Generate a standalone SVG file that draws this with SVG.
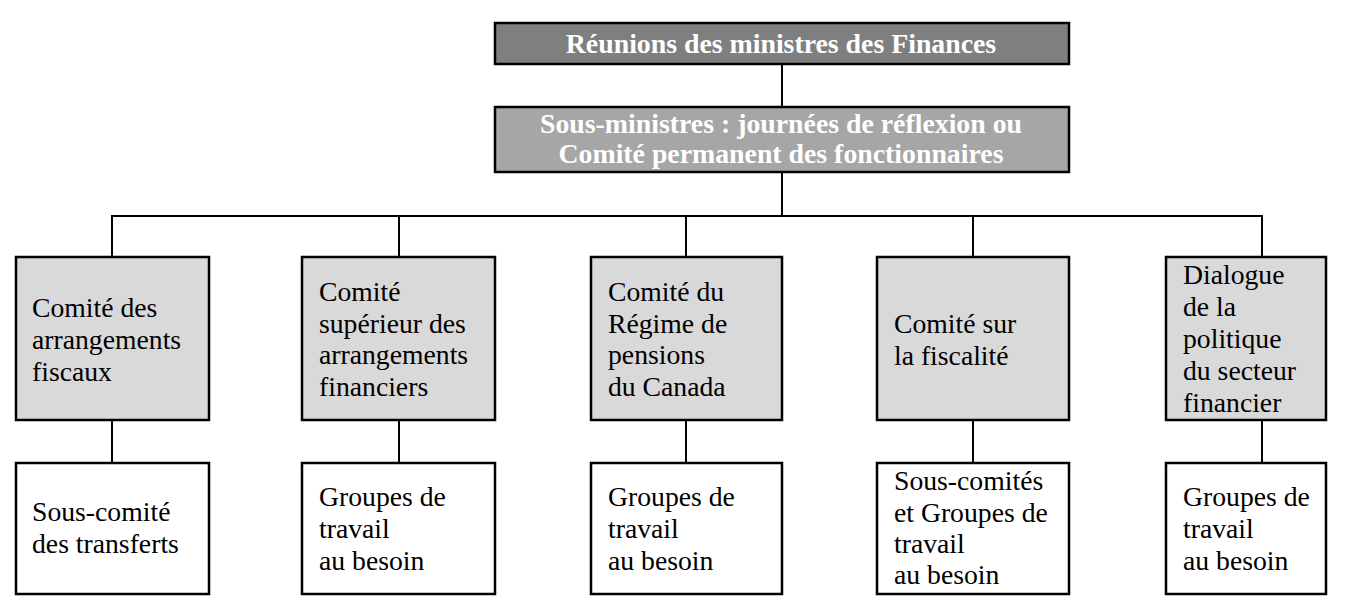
<svg xmlns="http://www.w3.org/2000/svg" width="1346" height="610" viewBox="0 0 1346 610">
<style>
.box{stroke:#000;stroke-width:2.5}
.b1{fill:#7f7f7f}
.b2{fill:#a6a6a6}
.b3{fill:#d9d9d9}
.b4{fill:#fff}
.hd{font-family:"Liberation Serif","Times New Roman",serif;font-weight:bold;font-size:27.8px;fill:#fff;text-anchor:middle}
.tx{font-family:"Liberation Serif","Times New Roman",serif;font-size:27.7px;fill:#000}
.ln{stroke:#000;stroke-width:2;fill:none}
</style>
<rect width="1346" height="610" fill="#fff"/>
<g id="connectors">
<path class="ln" d="M782 64V107M782 172V216M111 216H1263M112 216V257M399 216V257M686 216V257M973 216V257M1262 216V257M112 420V463M399 420V463M686 420V463M973 420V463M1262 420V463"/>
</g>
<g id="n-ministres">
<rect class="box b1" x="495" y="23" width="574" height="41"/>
<text class="hd" x="781" y="53">Réunions des ministres des Finances</text>
</g>
<g id="n-sousministres">
<rect class="box b2" x="495" y="107" width="574" height="65"/>
<text class="hd" x="781" y="133">Sous-ministres : journées de réflexion ou</text>
<text class="hd" x="781" y="162.5">Comité permanent des fonctionnaires</text>
</g>
<g id="n-fiscaux">
<rect class="box b3" x="16" y="257" width="193" height="163"/>
<text class="tx"><tspan x="32" y="317">Comité des</tspan><tspan x="32" y="349">arrangements</tspan><tspan x="32" y="381">fiscaux</tspan></text>
</g>
<g id="n-superieur">
<rect class="box b3" x="302" y="257" width="193" height="163"/>
<text class="tx"><tspan x="319" y="301">Comité</tspan><tspan x="319" y="333">supérieur des</tspan><tspan x="319" y="364">arrangements</tspan><tspan x="319" y="396">financiers</tspan></text>
</g>
<g id="n-rpc">
<rect class="box b3" x="591" y="257" width="191" height="163"/>
<text class="tx"><tspan x="608" y="301">Comité du</tspan><tspan x="608" y="333">Régime de</tspan><tspan x="608" y="364">pensions</tspan><tspan x="608" y="396">du Canada</tspan></text>
</g>
<g id="n-fiscalite">
<rect class="box b3" x="877" y="257" width="192" height="163"/>
<text class="tx"><tspan x="894" y="333">Comité sur</tspan><tspan x="894" y="365">la fiscalité</tspan></text>
</g>
<g id="n-dialogue">
<rect class="box b3" x="1166" y="257" width="160" height="163"/>
<text class="tx"><tspan x="1183" y="284">Dialogue</tspan><tspan x="1183" y="316">de la</tspan><tspan x="1183" y="348">politique</tspan><tspan x="1183" y="380">du secteur</tspan><tspan x="1183" y="412">financier</tspan></text>
</g>
<g id="n-transferts">
<rect class="box b4" x="16" y="463" width="193" height="131"/>
<text class="tx"><tspan x="32" y="521">Sous-comité</tspan><tspan x="32" y="553">des transferts</tspan></text>
</g>
<g id="n-groupes2">
<rect class="box b4" x="302" y="463" width="193" height="131"/>
<text class="tx"><tspan x="319" y="506">Groupes de</tspan><tspan x="319" y="538">travail</tspan><tspan x="319" y="570">au besoin</tspan></text>
</g>
<g id="n-groupes3">
<rect class="box b4" x="591" y="463" width="191" height="131"/>
<text class="tx"><tspan x="608" y="506">Groupes de</tspan><tspan x="608" y="538">travail</tspan><tspan x="608" y="570">au besoin</tspan></text>
</g>
<g id="n-souscomites">
<rect class="box b4" x="877" y="463" width="192" height="131"/>
<text class="tx"><tspan x="894" y="490">Sous-comités</tspan><tspan x="894" y="522">et Groupes de</tspan><tspan x="894" y="553">travail</tspan><tspan x="894" y="584">au besoin</tspan></text>
</g>
<g id="n-groupes5">
<rect class="box b4" x="1166" y="463" width="160" height="131"/>
<text class="tx"><tspan x="1183" y="506">Groupes de</tspan><tspan x="1183" y="538">travail</tspan><tspan x="1183" y="570">au besoin</tspan></text>
</g>
</svg>
